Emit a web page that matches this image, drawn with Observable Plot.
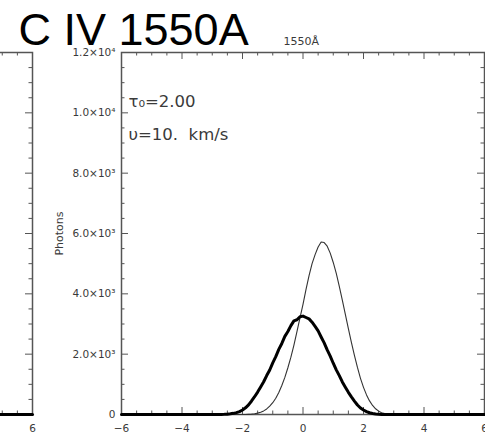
<!DOCTYPE html>
<html>
<head>
<meta charset="utf-8">
<script src="https://cdn.jsdelivr.net/npm/d3@7"></script>
<script src="https://cdn.jsdelivr.net/npm/@observablehq/plot@0.6"></script>
<style>
  body { margin: 0; background: #fff; }
  #fig { position: relative; width: 485px; height: 438px; overflow: hidden; background: #fff; }
  #fig svg { position: absolute; top: 0; }
</style>
</head>
<body>
<div id="fig"></div>
<script>
// Line-of-sight velocity offset (Doppler units) for the C IV 1550 profiles
const velocity = [
  -6,
  -3.0, -2.9, -2.8, -2.7, -2.6, -2.5, -2.4, -2.3, -2.2, -2.1,
  -2.0, -1.9, -1.8, -1.7, -1.6, -1.5, -1.4, -1.3, -1.2, -1.1,
  -1.0, -0.9, -0.8, -0.7, -0.6, -0.5, -0.4, -0.3, -0.2, -0.1,
   0.0,  0.1,  0.2,  0.3,  0.4,  0.5,  0.6,  0.7,  0.8,  0.9,
   1.0,  1.1,  1.2,  1.3,  1.4,  1.5,  1.6,  1.7,  1.8,  1.9,
   2.0,  2.1,  2.2,  2.3,  2.4,  2.5,  2.6,  2.7,  2.8,  2.9, 3.0,
   6
];

// Emergent photon counts, static profile (thick line)
const photonsStatic = [
  0,
  0, 0, 0, 3, 6, 12, 22, 38, 62, 98,
  150, 222, 318, 448, 590, 742, 915, 1085, 1290, 1476,
  1712, 1918, 2160, 2355, 2590, 2752, 2945, 3105, 3140, 3240,
  3262, 3215, 3170, 3060, 2920, 2770, 2570, 2375, 2140, 1935,
  1700, 1480, 1290, 1080, 905, 735, 585, 445, 315, 215,
  148, 95, 58, 34, 18, 9, 4, 0, 0, 0, 0,
  0
];

// Emergent photon counts, flow at v = 10 km/s (thin line)
const photonsFlow = [
  0,
  0, 0, 0, 0, 0, 0, 0, 0, 0, 0,
  0, 0, 5, 12, 25, 45, 75, 120, 185, 275,
  390, 540, 730, 960, 1230, 1550, 1900, 2300, 2750, 3200,
  3650, 4150, 4600, 5000, 5300, 5550, 5720, 5700, 5580, 5350,
  5040, 4680, 4250, 3790, 3320, 2850, 2390, 1960, 1560, 1200,
  900, 650, 450, 300, 190, 110, 60, 30, 12, 5, 0,
  0
];

// Right-hand tail of the preceding panel (only its last two units show)
const prevVelocity = [4, 6];
const prevPhotons = [0, 0];
const prevXTicks = [6];
const prevXTickLabels = ["6"];

// Axis ticks and labels
const xTicks = [-6, -4, -2, 0, 2, 4, 6];
const xTickLabels = ["\u22126", "\u22124", "\u22122", "0", "2", "4", "6"];
const xMinorTicks = [-5.5, -5, -4.5, -3.5, -3, -2.5, -1.5, -1, -0.5, 0.5, 1, 1.5, 2.5, 3, 3.5, 4.5, 5, 5.5];
const yTicks = [0, 2000, 4000, 6000, 8000, 10000, 12000];
const yTickLabels = ["0", "2.0\u00d710\u00b3", "4.0\u00d710\u00b3", "6.0\u00d710\u00b3", "8.0\u00d710\u00b3", "1.0\u00d710\u2074", "1.2\u00d710\u2074"];
const yMinorTicks = [500, 1000, 1500, 2500, 3000, 3500, 4500, 5000, 5500, 6500, 7000, 7500, 8500, 9000, 9500, 10500, 11000, 11500];

const W = 485, H = 438;
const mL = 121, mR = 1, mT = 52, mB = 24;
const innerW = W - mL - mR, innerH = H - mT - mB;
const majorLen = 7, minorLen = 3.5;
const axisColor = "#555";
const textColor = "#3a3a3a";
const font = "DejaVu Sans, sans-serif";

const xLabel = new Map(xTicks.map((t, i) => [t, xTickLabels[i]]));
const yLabel = new Map(yTicks.map((t, i) => [t, yTickLabels[i]]));
const prevXLabel = new Map(prevXTicks.map((t, i) => [t, prevXTickLabels[i]]));

// IDL-style inward ticks on all four sides of the frame
function boxTicks() {
  const s = {stroke: axisColor, strokeWidth: 1};
  return [
    Plot.ruleX(xTicks, {...s, insetTop: innerH - majorLen}),
    Plot.ruleX(xTicks, {...s, insetBottom: innerH - majorLen}),
    Plot.ruleX(xMinorTicks, {...s, insetTop: innerH - minorLen}),
    Plot.ruleX(xMinorTicks, {...s, insetBottom: innerH - minorLen}),
    Plot.ruleY(yTicks, {...s, insetRight: innerW - majorLen}),
    Plot.ruleY(yTicks, {...s, insetLeft: innerW - majorLen}),
    Plot.ruleY(yMinorTicks, {...s, insetRight: innerW - minorLen}),
    Plot.ruleY(yMinorTicks, {...s, insetLeft: innerW - minorLen}),
    Plot.frame({stroke: axisColor, strokeWidth: 1.5})
  ];
}

const base = {
  width: W, height: H,
  marginLeft: mL, marginRight: mR, marginTop: mT, marginBottom: mB,
  x: {domain: [-6, 6]},
  y: {domain: [0, 12000]},
  style: {background: "transparent", fontFamily: font, color: textColor, overflow: "visible"}
};

// Preceding panel, mostly off the left edge
const prevPanel = Plot.plot({
  ...base,
  marks: [
    ...boxTicks(),
    Plot.axisX({
      ticks: prevXTicks, tickSize: 0, tickPadding: 10, label: null,
      tickFormat: d => prevXLabel.get(d), fontSize: 10.5, fill: textColor
    }),
    Plot.axisY({ticks: [], label: null}),
    Plot.lineY(prevPhotons, {x: prevVelocity, stroke: "#000", strokeWidth: 3})
  ]
});
prevPanel.style.left = (32 - (W - mR)) + "px";

// Main panel: tau_0 = 2.00
const mainPanel = Plot.plot({
  ...base,
  marks: [
    ...boxTicks(),
    Plot.axisX({
      ticks: xTicks, tickSize: 0, tickPadding: 10, label: null,
      tickFormat: d => xLabel.get(d), fontSize: 10.5, fill: textColor
    }),
    Plot.axisY({
      ticks: yTicks, tickSize: 0, tickPadding: 6, label: null,
      tickFormat: d => yLabel.get(d), fontSize: 10.5, fill: textColor
    }),
    Plot.lineY(photonsFlow, {x: velocity, stroke: "#333", strokeWidth: 1.1}),
    Plot.lineY(photonsStatic, {x: velocity, stroke: "#000", strokeWidth: 3}),
    Plot.text(["Photons"], {
      text: d => d, frameAnchor: "left", dx: 59 - mL, rotate: -90,
      fontSize: 11, fill: textColor, textAnchor: "middle", lineAnchor: "middle"
    }),
    Plot.text(["C IV 1550A"], {
      text: d => d, frameAnchor: "top-left", dx: 18 - mL, dy: 44 - mT,
      fontSize: 45, fontFamily: "Liberation Sans, Arial, sans-serif", fill: "#000",
      textAnchor: "start", lineAnchor: "bottom"
    }),
    Plot.text(["1550\u00c5"], {
      text: d => d, frameAnchor: "top-left", dx: 283 - mL, dy: 44 - mT,
      fontSize: 11, fill: textColor, textAnchor: "start", lineAnchor: "bottom"
    }),
    Plot.text(["\u03c4\u2080=2.00"], {
      text: d => d, frameAnchor: "top-left", dx: 7, dy: 106 - mT,
      fontSize: 16.5, fill: textColor, textAnchor: "start", lineAnchor: "bottom"
    }),
    Plot.text(["\u03c5=10.  km/s"], {
      text: d => d, frameAnchor: "top-left", dx: 7, dy: 139 - mT,
      fontSize: 16.5, fill: textColor, textAnchor: "start", lineAnchor: "bottom"
    })
  ]
});
mainPanel.style.left = "0px";

const fig = document.getElementById("fig");
fig.appendChild(prevPanel);
fig.appendChild(mainPanel);
</script>
</body>
</html>
